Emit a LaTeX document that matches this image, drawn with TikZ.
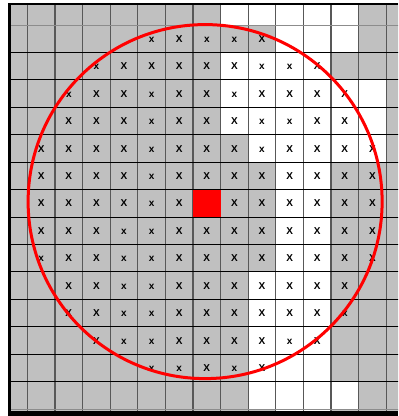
\documentclass[tikz,border=0pt]{standalone}
\usepackage{fontspec}
\newfontfamily\markfont{Liberation Sans}
\usetikzlibrary{calc}

\definecolor{cellgray}{RGB}{192,192,192}
\definecolor{colgray}{RGB}{88,88,88}

\begin{document}
\begin{tikzpicture}[
    x=27.6pt,
    y=-27.43pt,
    colline/.style={
        draw=colgray,
        line width=1.1pt
    },
    rowline/.style={
        draw=black,
        line width=0.9pt
    },
    frameline/.style={
        draw=black,
        line width=2.8pt
    },
    bigmark/.style={
        font=\markfont\bfseries\fontsize{10}{12}\selectfont,
        inner sep=0pt,
        anchor=base,
        yshift=-3.6pt
    },
    smallmark/.style={
        bigmark
    },
    redcell/.style={
        fill=red,
        minimum width=27.6pt,
        minimum height=27.43pt,
        inner sep=0pt
    },
    circleline/.style={
        draw=red,
        line width=3pt
    }
]

\fill[white] (-0.993,-0.911) rectangle (13.428,14.254);
\useasboundingbox (-0.993,-0.911) rectangle (13.428,14.254);

% ------------------------------------------------------------------
% Cells
% ------------------------------------------------------------------

\begin{scope}
    \clip (-0.649,-0.766) rectangle (13.428,14.07);

    \fill[cellgray] (-1,-1) rectangle (14,15);

    % white runs: row / first col / last col
    \foreach \r/\a/\b in {-1/7/11, 0/9/11, 1/7/10, 2/7/12, 3/7/12,
                          4/8/12, 5/9/10, 6/9/10, 7/9/10, 8/9/10,
                          9/8/10, 10/8/10, 11/8/10, 12/8/10, 13/8/11,
                          14/9/10}
        \fill[white] (\a,\r) rectangle (\b+1,\r+1);

    \foreach \c in {0,...,13}
        \draw[colline] (\c,-1) -- (\c,15);

    \draw[rowline, draw=black!45] (-1,0) -- (14,0);
    \foreach \r in {1,...,13}
        \draw[rowline] (-1,\r) -- (14,\r);
    \draw[rowline, draw=black!45] (-1,14) -- (14,14);
\end{scope}

% frame
\draw[frameline] (-0.649,14.254) -- (-0.649,-0.766) -- (13.428,-0.766);
\fill[black] (-0.7,14.07) rectangle (13.428,14.254);

% ------------------------------------------------------------------
% Marks
% ------------------------------------------------------------------

\foreach \r/\cols in {0/{5,8}, 1/{3,4,5,6,7,10},
                      2/{2,3,5,6,8,9,10,11}, 3/{1,2,3,5,6,7,10,11},
                      4/{0,1,2,3,5,6,7,9,10,11,12},
                      5/{0,1,2,3,5,6,7,8,9,10,11,12},
                      6/{0,1,2,3,5,7,8,9,10,11,12},
                      7/{0,1,2,5,6,7,8,9,10,11,12},
                      8/{1,2,5,6,7,8,9,10,11,12},
                      9/{1,2,5,6,7,8,9,10,11}, 10/{1,2,5,6,7,8,9,10},
                      11/{2,5,6,7,8,10}, 12/{6,8}}
    \foreach \c in \cols
        \node[bigmark] (bx-\r-\c) at (\c+.5,\r+.5) {X};

\foreach \r/\cols in {0/{4,6,7}, 1/{2,8,9}, 2/{1,4,7}, 3/{4,8,9},
                      4/{4,8}, 5/{4}, 6/{4}, 7/{3,4}, 8/{0,3,4},
                      9/{3,4}, 10/{3,4,11}, 11/{3,4,9}, 12/{4,5,7}}
    \foreach \c in \cols
        \node[smallmark] (sx-\r-\c) at (\c+.5,\r+.5) {x};

% ------------------------------------------------------------------
% Centre cell and search circle
% ------------------------------------------------------------------

\node[redcell] (centercell) at (6.5,6.5) {};

\draw[circleline] ([shift={(-1.7pt,1.7pt)}]centercell.center)
    circle [radius=177pt];

\end{tikzpicture}
\end{document}
